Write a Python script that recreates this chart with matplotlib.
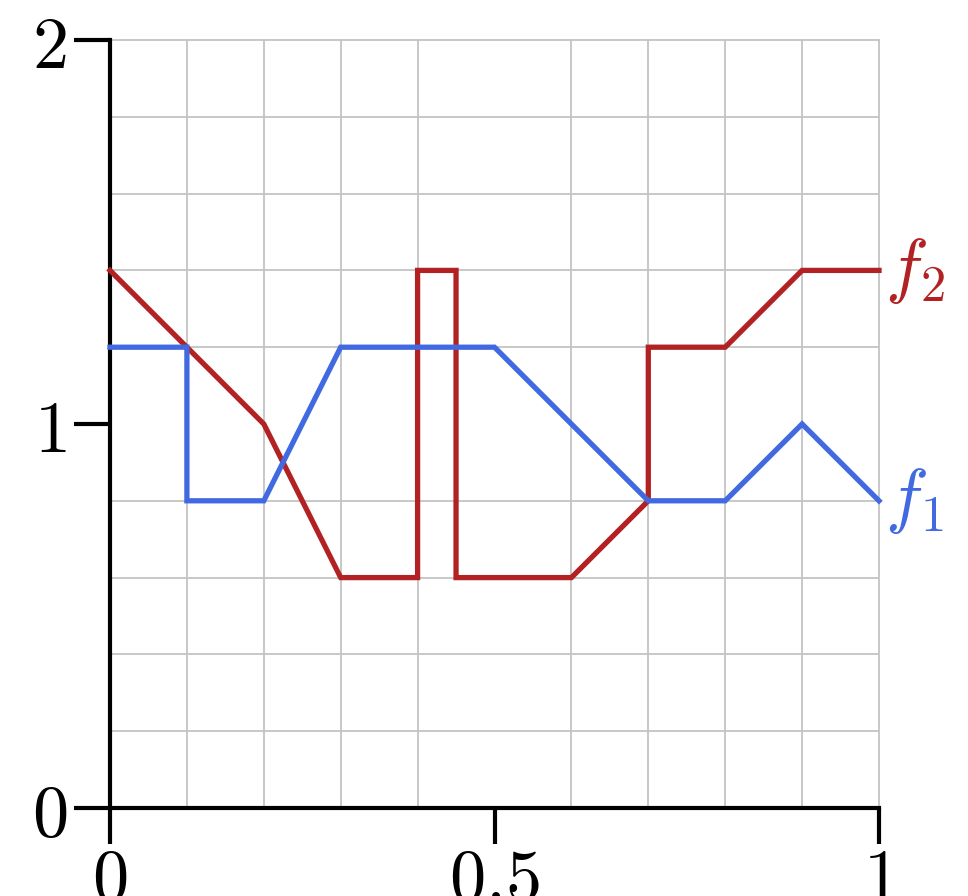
import matplotlib
matplotlib.use("Agg")
import matplotlib.pyplot as plt
import numpy as np

plt.rcParams['mathtext.fontset'] = 'cm'
plt.rcParams['font.family'] = 'serif'
plt.rcParams['font.serif'] = ['DejaVu Serif']

# data
f1_x = [0.0, 0.1, 0.1, 0.2, 0.3, 0.5, 0.7, 0.8, 0.9, 1.0]
f1_y = [1.2, 1.2, 0.8, 0.8, 1.2, 1.2, 0.8, 0.8, 1.0, 0.8]
f2_x = [0.0, 0.2, 0.3, 0.4, 0.4, 0.45, 0.45, 0.6, 0.7, 0.7, 0.8, 0.9, 1.0]
f2_y = [1.4, 1.0, 0.6, 0.6, 1.4, 1.4, 0.6, 0.6, 0.8, 1.2, 1.2, 1.4, 1.4]
x_ticks = [0, 0.5, 1]
x_tick_labels = [r'$0$', r'$0.5$', r'$1$']
y_ticks = [0, 1, 2]
y_tick_labels = [r'$0$', r'$1$', r'$2$']

blue = '#4169E1'
red = '#B22222'
grid_color = '#c4c4c4'

fig = plt.figure(figsize=(9.68, 8.96), dpi=100)
ax = fig.add_axes([110/968, 88/896, (879-110)/968, (808-40)/896])

ax.set_xlim(0, 1)
ax.set_ylim(0, 2)

ax.set_xticks(np.arange(0, 1.0001, 0.1), minor=True)
ax.set_yticks(np.arange(0, 2.0001, 0.2), minor=True)
ax.grid(which='minor', color=grid_color, linewidth=1.3)
ax.set_axisbelow(True)

ax.set_xticks(x_ticks)
ax.set_xticklabels(x_tick_labels)
ax.set_yticks(y_ticks)
ax.set_yticklabels(y_tick_labels)
ax.tick_params(which='minor', length=0)
ax.tick_params(which='major', length=26, width=3, labelsize=52, color='black')
ax.tick_params(axis='x', pad=0)
ax.tick_params(axis='y', pad=5)

for s in ['top', 'right']:
    ax.spines[s].set_color(grid_color)
    ax.spines[s].set_linewidth(1.3)
for s in ['left', 'bottom']:
    ax.spines[s].set_linewidth(3)
    ax.spines[s].set_zorder(2.6)

ax.plot(f2_x, f2_y, color=red, linewidth=3.8, clip_on=False, solid_joinstyle='miter', zorder=3)
ax.plot(f1_x, f1_y, color=blue, linewidth=3.8, clip_on=False, solid_joinstyle='miter', zorder=4)

ax.text(1.008, f2_y[-1], r'$f_2$', color=red, fontsize=52, va='center', ha='left')
ax.text(1.008, f1_y[-1], r'$f_1$', color=blue, fontsize=52, va='center', ha='left')

fig.savefig('out.png', dpi=100)
